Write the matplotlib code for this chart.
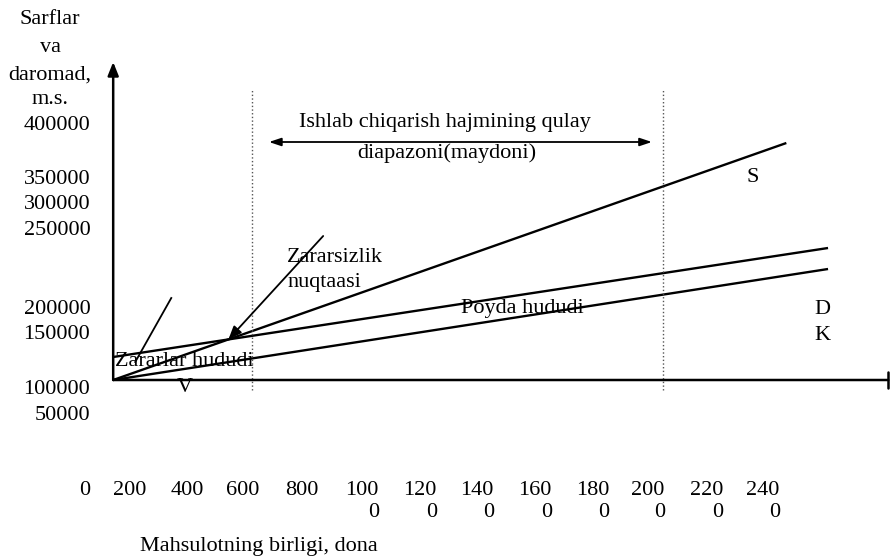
import matplotlib
matplotlib.use("Agg")
import matplotlib.pyplot as plt

plt.rcParams["font.family"] = ["Liberation Serif", "DejaVu Serif"]
plt.rcParams["font.size"] = 16

# volume axis categories (units) and their tick labels
volume_ticks = [0, 200, 400, 600, 800, 1000, 1200, 1400, 1600, 1800, 2000, 2200, 2400]
# where the (shifted) category labels sit along the volume axis
volume_tick_pos = [-94, 57, 248, 436, 634, 836, 1031, 1222, 1417, 1611, 1796, 1991, 2182]

# money axis labels as printed, and where they sit
money_labels = [400000, 350000, 300000, 250000, 200000, 150000, 100000, 50000]
money_label_pos = [257000, 203000, 178000, 152000, 73000, 48000, -7000, -33000]

# lines
volume_s = [0, 2260]
revenue_s = [0, 237000]
volume_c = [0, 2400]
total_cost = [23000, 132000]
variable_cost = [0, 111000]

# optimal production range bounds
range_bounds = [467, 1846]

ylabel_lines = ["Sarflar", "va", "daromad,", "m.s."]

fig = plt.figure(figsize=(8.9, 5.58), dpi=100)
ax = fig.add_axes([0, 0, 1, 1])
ax.set_xlim(-380, 2608)
ax.set_ylim(-178000, 380000)
for s in ax.spines.values():
    s.set_visible(False)
ax.spines["left"].set_position(("data", 0))
ax.spines["bottom"].set_position(("data", 0))

ax.set_yticks(money_label_pos)
ax.set_yticklabels([str(v) for v in money_labels])
xt_labels = [str(v) if len(str(v)) <= 3 else str(v)[:3] + "\n" + str(v)[3:] for v in volume_ticks]
ax.set_xticks(volume_tick_pos)
ax.set_xticklabels(xt_labels, multialignment="right")
ax.tick_params(axis="y", length=0, pad=16.5)
ax.tick_params(axis="x", length=0, pad=73)

# axes with arrows
ax.annotate("", xy=(0, 318000), xytext=(0, 0),
            arrowprops=dict(arrowstyle="-|>,head_length=0.5,head_width=0.2", color="black", lw=1.8, shrinkA=0, shrinkB=0))
ax.annotate("", xy=(2602, 0), xytext=(0, 0),
            arrowprops=dict(arrowstyle="-[,widthB=0.35,lengthB=0", color="black", lw=1.8, shrinkA=0, shrinkB=0))

# main lines
ax.plot(volume_s, revenue_s, color="black", lw=1.7, solid_capstyle="butt")
ax.plot(volume_c, total_cost, color="black", lw=1.7, solid_capstyle="butt")
ax.plot(volume_c, variable_cost, color="black", lw=1.7, solid_capstyle="butt")

# range bounds
ax.vlines(range_bounds, -10000, 290000, colors="#555555", linestyles=":", lw=1)
ax.annotate("", xy=(range_bounds[1], 238000), xytext=(range_bounds[0], 238000),
            arrowprops=dict(arrowstyle="<|-|>,head_length=0.45,head_width=0.15", color="black", lw=1.3,
                            shrinkA=12, shrinkB=8))
ax.text(1115, 257000, "Ishlab chiqarish hajmining qulay", ha="center", va="center")
ax.text(1121, 227000, "diapazoni(maydoni)", ha="center", va="center")

# break-even point
fc = total_cost[0]
slope_r = revenue_s[1] / volume_s[1]
slope_c = (total_cost[1] - total_cost[0]) / volume_c[1]
be_x = fc / (slope_r - slope_c)
be_y = slope_r * be_x
ax.annotate("", xy=(be_x, be_y), xytext=(705, 144000),
            arrowprops=dict(arrowstyle="-|>,head_length=0.5,head_width=0.2", color="black", lw=1.3, shrinkA=0, shrinkB=0))
ax.text(584, 123000, "Zararsizlik", ha="left", va="center")
ax.text(584, 97000, "nuqtaasi", ha="left", va="center")

# loss zone pointer
ax.plot([195, 74], [82000, 18000], color="black", lw=1.3)
ax.text(7, 18000, "Zararlar hududi", ha="left", va="center")
ax.text(1373, 72000, "Poyda hududi", ha="center", va="center")

ax.text(2148, 202000, "S", ha="center", va="center")
ax.text(2380, 70000, "D", ha="center", va="center")
ax.text(2380, 45000, "K", ha="center", va="center")
ax.text(242, -8000, "V", ha="center", va="center")

for line, ypx in zip(ylabel_lines, [20, 47, 75, 100]):
    fig.text(50 / 890, 1 - ypx / 558, line, ha="center", va="center")
fig.text(140 / 890, 1 - 547 / 558, "Mahsulotning birligi, dona", ha="left", va="center")

fig.savefig("out.png", dpi=100)
